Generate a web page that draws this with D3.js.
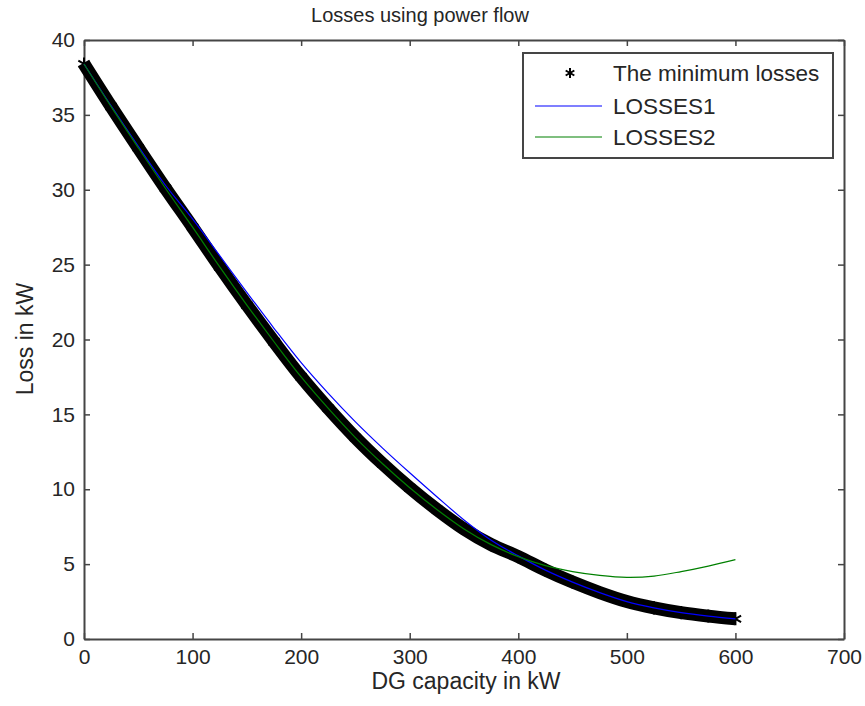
<!DOCTYPE html>
<html>

<head>
  <meta charset="UTF-8">
  <title>Losses using power flow</title>
  <script src="https://d3js.org/d3.v7.min.js"></script>
  <style>
    body {
      margin: 0;
      background: #fff;
    }

    text {
      font-family: "Liberation Sans", Arial, sans-serif;
      fill: #262626;
    }
  </style>
</head>

<body>
  <svg></svg>
</body>

<script>
  let width = 865,
    height = 706;

  // DG capacity (kW) sampled every 25 kW
  let capacity = [0, 25, 50, 75, 100, 125, 150, 175, 200, 225, 250, 275, 300,
    325, 350, 375, 400, 425, 450, 475, 500, 525, 550, 575, 600];

  let minLosses = [38.4, 35.55, 32.8, 30.1, 27.5, 24.85, 22.3, 19.85, 17.5, 15.4, 13.45, 11.7, 10.1,
    8.65, 7.35, 6.3, 5.5, 4.6, 3.8, 3.1, 2.5, 2.08, 1.76, 1.53, 1.35];
  let losses1 = [38.4, 35.6, 32.9, 30.3, 28.05, 25.6, 23.15, 20.75, 18.45, 16.4, 14.5, 12.75, 11.1,
    9.5, 7.95, 6.6, 5.55, 4.6, 3.8, 3.1, 2.5, 2.08, 1.76, 1.53, 1.35];
  let losses2 = [38.4, 35.55, 32.8, 30.1, 27.5, 24.85, 22.3, 19.85, 17.5, 15.4, 13.45, 11.7, 10.1,
    8.65, 7.35, 6.3, 5.5, 4.9, 4.5, 4.25, 4.12, 4.2, 4.5, 4.87, 5.3];

  let xTicks = [0, 100, 200, 300, 400, 500, 600, 700];
  let yTicks = [0, 5, 10, 15, 20, 25, 30, 35, 40];

  let legendLabels = ["The minimum losses", "LOSSES1", "LOSSES2"];

  let svg = d3.select("svg")
    .attr("width", width)
    .attr("height", height);

  let x = d3.scaleLinear().domain([0, 700]).range([84, 844]);
  let y = d3.scaleLinear().domain([0, 40]).range([639, 40]);

  // axes box, ticks pointing inward on every side
  let axisColor = "#454545";
  function styleAxis(g) {
    g.attr("font-family", null);
    g.select(".domain").attr("stroke", axisColor).attr("stroke-width", 2);
    g.selectAll(".tick line").attr("stroke", axisColor).attr("stroke-width", 1.5);
    g.selectAll("text").attr("font-size", 21).attr("fill", "#262626");
  }

  svg.append("g")
    .attr("transform", "translate(0,639)")
    .call(d3.axisBottom(x).tickValues(xTicks).tickSizeInner(-6).tickSizeOuter(0).tickPadding(10))
    .call(styleAxis);

  svg.append("g")
    .attr("transform", "translate(0,40)")
    .call(d3.axisTop(x).tickValues(xTicks).tickSizeInner(-6).tickSizeOuter(0).tickFormat(""))
    .call(styleAxis);

  svg.append("g")
    .attr("transform", "translate(84,0)")
    .call(d3.axisLeft(y).tickValues(yTicks).tickSizeInner(-6).tickSizeOuter(0).tickPadding(9))
    .call(styleAxis);

  svg.append("g")
    .attr("transform", "translate(844,0)")
    .call(d3.axisRight(y).tickValues(yTicks).tickSizeInner(-6).tickSizeOuter(0).tickFormat(""))
    .call(styleAxis);

  // series
  let line = (vals) => d3.line()
    .x((d, i) => x(capacity[i]))
    .y(d => y(d))
    .curve(d3.curveCatmullRom.alpha(0.5))(vals);

  // minimum losses: dense '*' markers, drawn as a thick band plus markers
  svg.append("path")
    .attr("d", line(minLosses))
    .attr("fill", "none")
    .attr("stroke", "#000")
    .attr("stroke-width", 13);

  let star = d3.symbol().type(d3.symbolAsterisk).size(120);
  svg.append("g")
    .selectAll("path")
    .data(minLosses)
    .enter()
    .append("path")
    .attr("d", star)
    .attr("transform", (d, i) => "translate(" + x(capacity[i]) + "," + y(d) + ")")
    .attr("fill", "none")
    .attr("stroke", "#000")
    .attr("stroke-width", 2);

  svg.append("path")
    .attr("d", line(losses1))
    .attr("fill", "none")
    .attr("stroke", "#0000ff")
    .attr("stroke-width", 1.2);

  svg.append("path")
    .attr("d", line(losses2))
    .attr("fill", "none")
    .attr("stroke", "#008000")
    .attr("stroke-width", 1.2);

  // title and axis labels
  svg.append("text")
    .attr("x", 420)
    .attr("y", 22)
    .attr("text-anchor", "middle")
    .attr("font-size", 20)
    .text("Losses using power flow");

  svg.append("text")
    .attr("x", 466)
    .attr("y", 689)
    .attr("text-anchor", "middle")
    .attr("font-size", 23)
    .text("DG capacity in kW");

  svg.append("text")
    .attr("transform", "translate(33,339) rotate(-90)")
    .attr("text-anchor", "middle")
    .attr("font-size", 23)
    .text("Loss in kW");

  // legend
  let legend = svg.append("g");
  legend.append("rect")
    .attr("x", 523)
    .attr("y", 53)
    .attr("width", 310)
    .attr("height", 105)
    .attr("fill", "#fff")
    .attr("stroke", axisColor)
    .attr("stroke-width", 2);

  let rowY = [73, 106, 137];
  let rows = legend.selectAll("g.row")
    .data(legendLabels)
    .enter()
    .append("g")
    .attr("class", "row")
    .attr("transform", (d, i) => "translate(0," + rowY[i] + ")");

  rows.append("text")
    .attr("x", 613)
    .attr("dy", "0.35em")
    .attr("font-size", 22.5)
    .text(d => d);

  rows.filter((d, i) => i > 0)
    .append("line")
    .attr("x1", 535)
    .attr("x2", 602)
    .attr("stroke", (d, i) => i == 0 ? "#0000ff" : "#008000")
    .attr("stroke-width", 1.2);

  rows.filter((d, i) => i == 0)
    .append("path")
    .attr("d", d3.symbol().type(d3.symbolAsterisk).size(70))
    .attr("transform", "translate(570,0)")
    .attr("fill", "none")
    .attr("stroke", "#000")
    .attr("stroke-width", 2);
</script>

</html>
